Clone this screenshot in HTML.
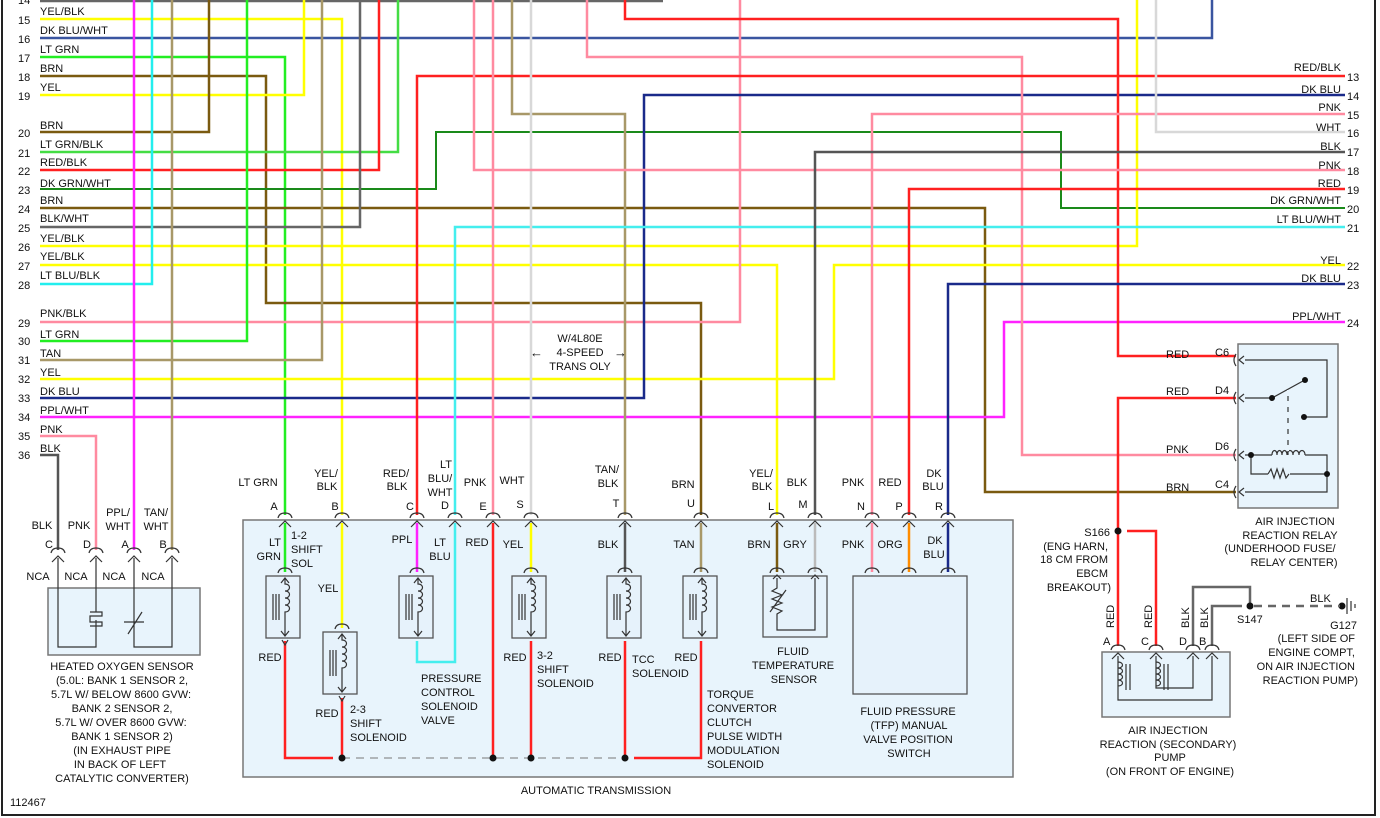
<!DOCTYPE html>
<html><head><meta charset="utf-8"><style>
html,body{margin:0;padding:0;background:#fff;}
svg{display:block;}
text{font-family:"Liberation Sans",sans-serif;font-size:11px;fill:#111;}
.r{text-anchor:end}.m{text-anchor:middle}
.w{fill:none;stroke-width:2.5;stroke-linejoin:miter}
.k{fill:none;stroke:#333;stroke-width:1.2}
</style></head><body>
<svg width="1380" height="818" viewBox="0 0 1380 818" xmlns="http://www.w3.org/2000/svg">
<defs>
<g id="pin"><path d="M-7,-1 Q-6,-6 0,-6 Q6,-6 7,-1" class="k"/><path d="M-6,8 L0,2 L6,8" class="k"/></g>
<g id="sol"><rect x="0" y="0" width="34" height="62" fill="#e6f2fb" stroke="#555" stroke-width="1.3"/>
<path d="M19,2 V8 c6,0 6,7 0,7 c6,0 6,7 0,7 c6,0 6,7 0,7 c6,0 6,7 0,7 V60" class="k"/>
<path d="M15,7 L19,2 L23,7 M15,55 L19,60 L23,55" class="k"/>
<path d="M7,18 V44 M10,18 V44 M13,18 V44" class="k"/></g>
</defs>
<rect x="0" y="0" width="1380" height="818" fill="#fff"/>
<path d="M2,0 V815 H1375 V0" fill="none" stroke="#222" stroke-width="2"/>

<rect x="243" y="520" width="770" height="257" fill="#e8f4fc" stroke="#777" stroke-width="1.5"/>
<rect x="48" y="588" width="152" height="67" fill="#e8f4fc" stroke="#777" stroke-width="1.5"/>
<rect x="1102" y="652" width="128" height="65" fill="#e8f4fc" stroke="#777" stroke-width="1.5"/>
<rect x="1238" y="344" width="100" height="164" fill="#e8f4fc" stroke="#777" stroke-width="1.5"/>

<g class="w">
<path d="M40,1 H663" stroke="#666"/>
<path d="M40,19 H342 V515" stroke="#ffff00"/>
<path d="M40,38 H1212 V0" stroke="#3a55a0"/>
<path d="M40,57 H285 V515" stroke="#22ee22"/>
<path d="M40,76 H266 V303 H701 V515" stroke="#7a5a10"/>
<path d="M40,95 H304 V0" stroke="#ffff00"/>
<path d="M40,132 H209 V0" stroke="#7a5a10"/>
<path d="M40,152 H398 V0" stroke="#44dd44"/>
<path d="M40,170 H379 V0" stroke="#ff2020"/>
<path d="M40,189 H436 V132 H1061 V208 H1345" stroke="#1a8a1a" stroke-width="2"/>
<path d="M40,208 H985 V492 H1236" stroke="#7a5a10"/>
<path d="M40,227 H360 V0" stroke="#666"/>
<path d="M40,246 H1137 V0" stroke="#ffff00"/>
<path d="M40,265 H777 V515" stroke="#ffff00"/>
<path d="M40,284 H152 V0" stroke="#22eeee"/>
<path d="M40,322 H740 V0" stroke="#ff8aa0"/>
<path d="M40,341 H247 V0" stroke="#22ee22"/>
<path d="M40,360 H322 V0" stroke="#a89868"/>
<path d="M40,379 H834 V265 H1345" stroke="#ffff00"/>
<path d="M40,398 H644 V95 H1345" stroke="#1a2a8a"/>
<path d="M40,417 H1004 V322 H1345" stroke="#ff22ff"/>
<path d="M40,436 H96 V550" stroke="#ff8aa0"/>
<path d="M40,455 H58 V550" stroke="#555"/>
<path d="M134,0 V550" stroke="#ff22ff"/>
<path d="M172,0 V550" stroke="#a89868"/>
<path d="M512,0 V114 H625 V515" stroke="#a89868"/>
<path d="M625,0 V19 H1118 V356 H1236" stroke="#ff2020"/>
<path d="M587,0 V57 H1022 V455 H1236" stroke="#ff8aa0"/>
<path d="M417,515 V76 H1345" stroke="#ff2020"/>
<path d="M1345,227 H455 V515" stroke="#44eeee"/>
<path d="M493,0 V515" stroke="#ff8aa0"/>
<path d="M531,0 V515" stroke="#d8d8d8"/>
<path d="M474,0 V170 H1345" stroke="#ff8aa0"/>
<path d="M1345,114 H872 V515" stroke="#ff8aa0"/>
<path d="M1345,152 H815 V515" stroke="#555"/>
<path d="M1345,189 H909 V515" stroke="#ff2020"/>
<path d="M1345,284 H948 V515" stroke="#1a2a8a"/>
<path d="M1156,0 V132 H1345" stroke="#d8d8d8"/>
<path d="M1236,398 H1118 V646" stroke="#ff2020"/>
<path d="M1127,531 H1156 V646" stroke="#ff2020"/>
<path d="M1193,646 V587 H1250 V606" stroke="#666"/>
<path d="M1212,646 V606 H1242" stroke="#666"/>
<path d="M285,523 V572" stroke="#22ee22"/>
<path d="M342,523 V628" stroke="#ffff00"/>
<path d="M417,523 V572" stroke="#ff22ff"/>
<path d="M455,523 V662 H417 V641" stroke="#44eeee"/>
<path d="M493,523 V758" stroke="#ff2020"/>
<path d="M531,523 V572" stroke="#ffff00"/>
<path d="M625,523 V572" stroke="#555"/>
<path d="M701,523 V572" stroke="#a89868"/>
<path d="M777,523 V572" stroke="#7a5a10"/>
<path d="M815,523 V572" stroke="#bbbbbb"/>
<path d="M872,523 V572" stroke="#ff8aa0"/>
<path d="M909,523 V572" stroke="#ff8c00"/>
<path d="M948,523 V572" stroke="#1a2a8a"/>
<path d="M285,641 V758 H333" stroke="#ff2020"/>
<path d="M342,698 V758" stroke="#ff2020"/>
<path d="M531,641 V758" stroke="#ff2020"/>
<path d="M625,641 V758" stroke="#ff2020"/>
<path d="M701,641 V758 H634" stroke="#ff2020"/>
</g>
<path d="M342,758 H625" stroke="#777" stroke-width="1" stroke-dasharray="8,6" fill="none"/>
<g fill="#111"><circle cx="342" cy="758" r="3.5"/><circle cx="493" cy="758" r="3.5"/><circle cx="531" cy="758" r="3.5"/><circle cx="625" cy="758" r="3.5"/>
<circle cx="1118" cy="531" r="3.5"/><circle cx="1250" cy="606" r="3.5"/><circle cx="1342" cy="606" r="3.5"/></g>
<path d="M1254,606 H1340" stroke="#666" stroke-width="2.5" stroke-dasharray="8,6" fill="none"/>
<path d="M1347,598 V614 M1351,601 V611 M1355,604 V608" class="k"/>

<g>
<use href="#pin" x="285" y="519"/><use href="#pin" x="342" y="519"/><use href="#pin" x="417" y="519"/><use href="#pin" x="455" y="519"/><use href="#pin" x="493" y="519"/><use href="#pin" x="531" y="519"/><use href="#pin" x="625" y="519"/><use href="#pin" x="701" y="519"/><use href="#pin" x="777" y="519"/><use href="#pin" x="815" y="519"/><use href="#pin" x="872" y="519"/><use href="#pin" x="909" y="519"/><use href="#pin" x="948" y="519"/>
<use href="#pin" x="285" y="574"/><use href="#pin" x="342" y="630"/><use href="#pin" x="417" y="574"/><use href="#pin" x="531" y="574"/><use href="#pin" x="625" y="574"/><use href="#pin" x="701" y="574"/><use href="#pin" x="777" y="574"/><use href="#pin" x="815" y="574"/><use href="#pin" x="872" y="574"/><use href="#pin" x="909" y="574"/><use href="#pin" x="948" y="574"/>
<use href="#pin" x="58" y="554"/><use href="#pin" x="96" y="554"/><use href="#pin" x="134" y="554"/><use href="#pin" x="172" y="554"/>
<use href="#pin" x="1118" y="651"/><use href="#pin" x="1156" y="651"/><use href="#pin" x="1193" y="651"/><use href="#pin" x="1212" y="651"/>
</g>
<use href="#sol" x="266" y="576"/><use href="#sol" x="323" y="632"/><use href="#sol" x="399" y="576"/><use href="#sol" x="512" y="576"/><use href="#sol" x="607" y="576"/><use href="#sol" x="683" y="576"/>
<path d="M282,640 l3,5 3,-5 M339,696 l3,5 3,-5" class="k"/>
<rect x="763" y="576" width="64" height="61" fill="#e6f2fb" stroke="#555" stroke-width="1.3"/>
<path d="M777,578 V588 l-5,3 10,4 -10,4 10,4 -10,4 10,4 -5,3 V630 H815 V578 M773,579 l4,-4 4,4 M811,579 l4,-4 4,4 M770,612 L786,590" class="k"/>
<rect x="853" y="576" width="114" height="118" fill="#e6f2fb" stroke="#555" stroke-width="1.3"/>
<path d="M58,558 V647 H96 V620 M96,558 V612 M90,612 h12 v4 h-12 v6 h12 v4 h-12 M134,558 V647 H172 V558 M124,622 H144 M128,634 L142,612" class="k" stroke-width="1.5"/>
<path d="M1118,656 V700 H1212 V656 M1156,656 V688 H1193 V656 M1118,662 c6,0 6,6 0,6 c6,0 6,6 0,6 c6,0 6,6 0,6 c6,0 6,6 0,6 M1156,662 c6,0 6,6 0,6 c6,0 6,6 0,6 c6,0 6,6 0,6 c6,0 6,6 0,6 M1126,664 V690 M1130,664 V690 M1164,664 V690 M1168,664 V690" class="k"/>
<path d="M1245,360 H1327 V417 H1304 M1245,398 H1272 L1303,381 M1288,390 V455 M1245,455 H1272 M1305,455 H1327 V492 H1245 M1251,455 V474 H1268 M1290,474 H1327 M1272,455 c0,-6 5,-6 5,0 c0,-6 5,-6 5,0 c0,-6 5,-6 5,0 c0,-6 6,-6 6,0 c0,-6 6,-6 6,0 c0,-6 6,-6 6,0 M1268,474 l3,-5 3,9 3,-9 3,9 3,-9 3,9 3,-4" class="k"/>
<path d="M1288,390 V455" stroke="#e8f4fc" stroke-width="2" stroke-dasharray="6,5"/>
<path d="M1244,356 l-5,4 5,4 M1244,394 l-5,4 5,4 M1244,451 l-5,4 5,4 M1244,488 l-5,4 5,4 M1236,354 q-4,6 0,12 M1236,392 q-4,6 0,12 M1236,449 q-4,6 0,12 M1236,486 q-4,6 0,12" class="k"/>
<g fill="#111"><circle cx="1272" cy="398" r="3"/><circle cx="1305" cy="380" r="3"/><circle cx="1304" cy="417" r="3"/><circle cx="1251" cy="455" r="3"/><circle cx="1327" cy="474" r="3"/></g>

<g>
<text x="18" y="4">14</text>
<text x="18" y="24">15</text><text x="40" y="15">YEL/BLK</text>
<text x="18" y="43">16</text><text x="40" y="34">DK BLU/WHT</text>
<text x="18" y="62">17</text><text x="40" y="53">LT GRN</text>
<text x="18" y="81">18</text><text x="40" y="72">BRN</text>
<text x="18" y="100">19</text><text x="40" y="91">YEL</text>
<text x="18" y="137">20</text><text x="40" y="129">BRN</text>
<text x="18" y="157">21</text><text x="40" y="148">LT GRN/BLK</text>
<text x="18" y="175">22</text><text x="40" y="166">RED/BLK</text>
<text x="18" y="194">23</text><text x="40" y="187">DK GRN/WHT</text>
<text x="18" y="213">24</text><text x="40" y="204">BRN</text>
<text x="18" y="232">25</text><text x="40" y="222">BLK/WHT</text>
<text x="18" y="251">26</text><text x="40" y="242">YEL/BLK</text>
<text x="18" y="270">27</text><text x="40" y="260">YEL/BLK</text>
<text x="18" y="289">28</text><text x="40" y="279">LT BLU/BLK</text>
<text x="18" y="327">29</text><text x="40" y="317">PNK/BLK</text>
<text x="18" y="345">30</text><text x="40" y="338">LT GRN</text>
<text x="18" y="364">31</text><text x="40" y="357">TAN</text>
<text x="18" y="383">32</text><text x="40" y="376">YEL</text>
<text x="18" y="402">33</text><text x="40" y="395">DK BLU</text>
<text x="18" y="421">34</text><text x="40" y="414">PPL/WHT</text>
<text x="18" y="440">35</text><text x="40" y="433">PNK</text>
<text x="18" y="459">36</text><text x="40" y="452">BLK</text>
</g>
<g>
<text class="r" x="1341" y="71">RED/BLK</text><text x="1347" y="81">13</text>
<text class="r" x="1341" y="93">DK BLU</text><text x="1347" y="100">14</text>
<text class="r" x="1341" y="111">PNK</text><text x="1347" y="119">15</text>
<text class="r" x="1341" y="131">WHT</text><text x="1347" y="137">16</text>
<text class="r" x="1341" y="150">BLK</text><text x="1347" y="156">17</text>
<text class="r" x="1341" y="169">PNK</text><text x="1347" y="175">18</text>
<text class="r" x="1341" y="187">RED</text><text x="1347" y="194">19</text>
<text class="r" x="1341" y="204">DK GRN/WHT</text><text x="1347" y="213">20</text>
<text class="r" x="1341" y="223">LT BLU/WHT</text><text x="1347" y="232">21</text>
<text class="r" x="1341" y="264">YEL</text><text x="1347" y="270">22</text>
<text class="r" x="1341" y="282">DK BLU</text><text x="1347" y="289">23</text>
<text class="r" x="1341" y="320">PPL/WHT</text><text x="1347" y="327">24</text>
</g>
<text class="m" x="580" y="342">W/4L80E</text>
<text class="m" x="580" y="356">4-SPEED</text>
<text class="m" x="580" y="370">TRANS OLY</text>
<text x="530" y="357" style="font-size:13px">←</text><text x="614" y="357" style="font-size:13px">→</text>

<g>
<text class="m" x="258" y="486">LT GRN</text><text class="m" x="274" y="510">A</text>
<text class="m" x="326" y="477">YEL/</text><text class="m" x="327" y="490">BLK</text><text class="m" x="335" y="510">B</text>
<text class="m" x="396" y="477">RED/</text><text class="m" x="397" y="490">BLK</text><text class="m" x="410" y="510">C</text>
<text class="m" x="446" y="468">LT</text><text class="m" x="440" y="482">BLU/</text><text class="m" x="440" y="496">WHT</text><text class="m" x="445" y="509">D</text>
<text class="m" x="475" y="486">PNK</text><text class="m" x="483" y="510">E</text>
<text class="m" x="512" y="484">WHT</text><text class="m" x="520" y="508">S</text>
<text class="m" x="607" y="473">TAN/</text><text class="m" x="608" y="487">BLK</text><text class="m" x="616" y="507">T</text>
<text class="m" x="683" y="488">BRN</text><text class="m" x="691" y="507">U</text>
<text class="m" x="761" y="477">YEL/</text><text class="m" x="762" y="490">BLK</text><text class="m" x="771" y="510">L</text>
<text class="m" x="797" y="486">BLK</text><text class="m" x="803" y="508">M</text>
<text class="m" x="853" y="486">PNK</text><text class="m" x="861" y="510">N</text>
<text class="m" x="890" y="486">RED</text><text class="m" x="899" y="510">P</text>
<text class="m" x="934" y="477">DK</text><text class="m" x="933" y="490">BLU</text><text class="m" x="939" y="510">R</text>
</g>
<g>
<text class="r" x="281" y="546">LT</text><text class="r" x="281" y="560">GRN</text>
<text x="291" y="539">1-2</text><text x="291" y="553">SHIFT</text><text x="291" y="567">SOL</text>
<text class="m" x="328" y="592">YEL</text>
<text class="m" x="270" y="661">RED</text>
<text class="m" x="327" y="717">RED</text>
<text x="350" y="713">2-3</text><text x="350" y="727">SHIFT</text><text x="350" y="741">SOLENOID</text>
<text class="m" x="402" y="543">PPL</text>
<text class="m" x="440" y="546">LT</text><text class="m" x="440" y="560">BLU</text>
<text class="m" x="477" y="546">RED</text>
<text x="421" y="682">PRESSURE</text><text x="421" y="696">CONTROL</text><text x="421" y="710">SOLENOID</text><text x="421" y="724">VALVE</text>
<text class="m" x="513" y="548">YEL</text>
<text class="m" x="515" y="661">RED</text>
<text x="537" y="659">3-2</text><text x="537" y="673">SHIFT</text><text x="537" y="687">SOLENOID</text>
<text class="m" x="608" y="548">BLK</text>
<text class="m" x="610" y="661">RED</text>
<text x="632" y="663">TCC</text><text x="632" y="677">SOLENOID</text>
<text class="m" x="684" y="548">TAN</text>
<text class="m" x="686" y="661">RED</text>
<text x="707" y="698">TORQUE</text><text x="707" y="712">CONVERTOR</text><text x="707" y="726">CLUTCH</text><text x="707" y="740">PULSE WIDTH</text><text x="707" y="754">MODULATION</text><text x="707" y="768">SOLENOID</text>
<text class="m" x="759" y="548">BRN</text><text class="m" x="795" y="548">GRY</text>
<text class="m" x="793" y="655">FLUID</text><text class="m" x="793" y="669">TEMPERATURE</text><text class="m" x="794" y="683">SENSOR</text>
<text class="m" x="853" y="548">PNK</text><text class="m" x="890" y="548">ORG</text>
<text class="m" x="935" y="544">DK</text><text class="m" x="934" y="558">BLU</text>
<text class="m" x="908" y="715">FLUID PRESSURE</text><text class="m" x="909" y="729">(TFP) MANUAL</text><text class="m" x="908" y="743">VALVE POSITION</text><text class="m" x="909" y="757">SWITCH</text>
</g>
<text class="m" x="596" y="794">AUTOMATIC TRANSMISSION</text>
<text x="10" y="806">112467</text>

<g>
<text class="m" x="42" y="529">BLK</text><text class="m" x="79" y="529">PNK</text>
<text class="m" x="118" y="516">PPL/</text><text class="m" x="118" y="530">WHT</text>
<text class="m" x="156" y="516">TAN/</text><text class="m" x="156" y="530">WHT</text>
<text class="m" x="49" y="548">C</text><text class="m" x="87" y="548">D</text><text class="m" x="125" y="548">A</text><text class="m" x="163" y="548">B</text>
<text class="m" x="38" y="580">NCA</text><text class="m" x="76" y="580">NCA</text><text class="m" x="114" y="580">NCA</text><text class="m" x="153" y="580">NCA</text>
<text class="m" x="122" y="670">HEATED OXYGEN SENSOR</text>
<text class="m" x="122" y="684">(5.0L: BANK 1 SENSOR 2,</text>
<text class="m" x="121" y="698">5.7L W/ BELOW 8600 GVW:</text>
<text class="m" x="122" y="712">BANK 2 SENSOR 2,</text>
<text class="m" x="121" y="726">5.7L W/ OVER 8600 GVW:</text>
<text class="m" x="122" y="740">BANK 1 SENSOR 2)</text>
<text class="m" x="122" y="754">(IN EXHAUST PIPE</text>
<text class="m" x="120" y="768">IN BACK OF LEFT</text>
<text class="m" x="122" y="782">CATALYTIC CONVERTER)</text>
</g>
<g>
<text x="1166" y="358">RED</text><text x="1215" y="356">C6</text>
<text x="1166" y="395">RED</text><text x="1215" y="394">D4</text>
<text x="1166" y="453">PNK</text><text x="1215" y="450">D6</text>
<text x="1166" y="491">BRN</text><text x="1215" y="488">C4</text>
<text class="m" x="1295" y="525">AIR INJECTION</text>
<text class="m" x="1290" y="539">REACTION RELAY</text>
<text class="m" x="1280" y="552">(UNDERHOOD FUSE/</text>
<text class="m" x="1294" y="566">RELAY CENTER)</text>
<text class="r" x="1110" y="536">S166</text>
<text class="r" x="1108" y="550">(ENG HARN,</text>
<text class="r" x="1108" y="563">18 CM FROM</text>
<text class="r" x="1108" y="577">EBCM</text>
<text class="r" x="1111" y="591">BREAKOUT)</text>
<text transform="translate(1114,628) rotate(-90)">RED</text>
<text transform="translate(1152,628) rotate(-90)">RED</text>
<text transform="translate(1189,628) rotate(-90)">BLK</text>
<text transform="translate(1208,628) rotate(-90)">BLK</text>
<text x="1103" y="645">A</text><text x="1141" y="645">C</text><text x="1179" y="645">D</text><text x="1199" y="645">B</text>
<text x="1237" y="623">S147</text>
<text x="1310" y="602">BLK</text>
<text class="r" x="1357" y="629">G127</text>
<text class="r" x="1355" y="642">(LEFT SIDE OF</text>
<text class="r" x="1355" y="656">ENGINE COMPT,</text>
<text class="r" x="1355" y="670">ON AIR INJECTION</text>
<text class="r" x="1358" y="684">REACTION PUMP)</text>
<text class="m" x="1168" y="734">AIR INJECTION</text>
<text class="m" x="1168" y="748">REACTION (SECONDARY)</text>
<text class="m" x="1170" y="761">PUMP</text>
<text class="m" x="1170" y="775">(ON FRONT OF ENGINE)</text>
</g>
</svg>
</body></html>
